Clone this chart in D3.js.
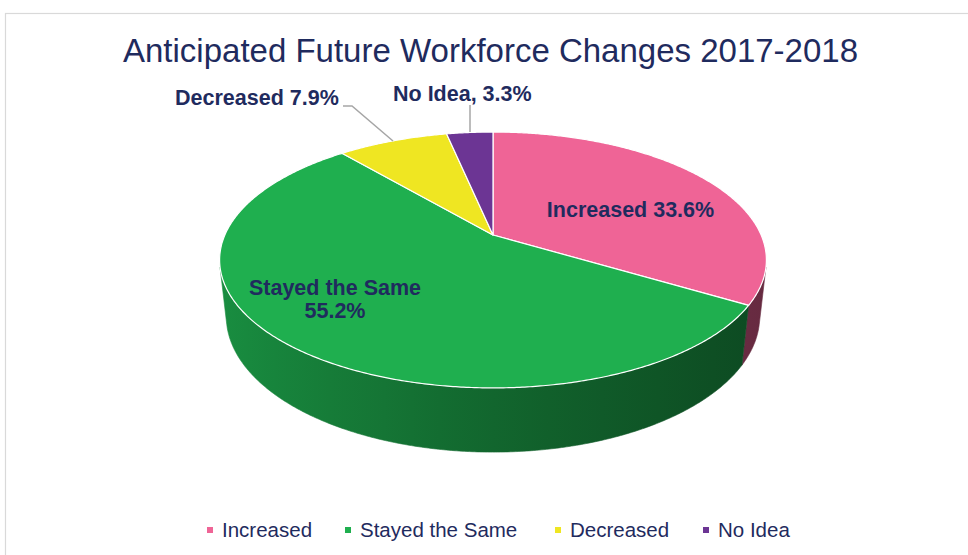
<!DOCTYPE html>
<html>
<head>
<meta charset="utf-8">
<script src="https://cdn.jsdelivr.net/npm/d3@7"></script>
<style>
  html, body { margin: 0; padding: 0; background: #fff; }
  svg { display: block; font-family: "Liberation Sans", Arial, sans-serif; }
</style>
</head>
<body>
<svg id="chart" width="968" height="555"></svg>
<script>
// 3D pie: Anticipated Future Workforce Changes 2017-2018

const categories = ["Increased", "Stayed the Same", "Decreased", "No Idea"];
const values = [33.6, 55.2, 7.9, 3.3];
const colors = ["#EF6496", "#1FAF4F", "#EFE622", "#6C3594"];
const labelSep = [" ", "\n", " ", ", "];

const width = 968;
const height = 555;
const navy = "#1F2B5E";
const svg = d3.select("#chart");

// frame
svg.append("rect")
    .attr("x", 5.5).attr("y", 13.5)
    .attr("width", 980).attr("height", 580)
    .attr("fill", "none").attr("stroke", "#D9D9D9").attr("stroke-width", 1.2);

// title
svg.append("text")
    .attr("x", 490.5).attr("y", 62)
    .attr("text-anchor", "middle")
    .attr("font-size", 33)
    .attr("fill", navy)
    .text("Anticipated Future Workforce Changes 2017-2018");

// perspective settings for the tilted disk
const cx = 493, cy = 235;
const sinT = 0.459, cosT = 0.888;
const D = 4.55, f = 1220, depth = 0.239;

function proj(a, k, r = 1) {
    const u = r * Math.sin(a), v = -r * Math.cos(a);
    const Y = v * sinT + k * cosT;
    const Z = D - v * cosT + k * sinT;
    return [cx + f * u / Z, cy + f * Y / Z];
}

function arcPts(a0, a1, k) {
    const n = Math.max(2, Math.ceil(Math.abs(a1 - a0) / 0.008));
    return d3.range(n + 1).map(i => proj(a0 + (a1 - a0) * i / n, k));
}

const pie = d3.pie().sort(null).value(d => d)(values);
const line = d3.line().curve(d3.curveLinear);

// gradients for the side walls
const defs = svg.append("defs");
const shade = d3.scaleLinear().domain([220, 767]).range([0.6, 2.4]);
colors.forEach((c, i) => {
    const g = defs.append("linearGradient")
        .attr("id", "wall" + i)
        .attr("gradientUnits", "userSpaceOnUse")
        .attr("x1", 220).attr("x2", 767).attr("y1", 0).attr("y2", 0);
    d3.range(0, 1.01, 0.1).forEach(t => {
        const x = 220 + t * 547;
        g.append("stop")
            .attr("offset", t)
            .attr("stop-color", d3.color(c).darker(shade(x)).formatHex());
    });
});

// visible outer wall: where -cos(a) > 1/(cosT*D)
const vis = Math.acos(-1 / (cosT * D));
const visStart = vis, visEnd = 2 * Math.PI - vis;

const wallG = svg.append("g");
pie.forEach((d, i) => {
    const a0 = Math.max(d.startAngle, visStart);
    const a1 = Math.min(d.endAngle, visEnd);
    if (a1 <= a0) return;
    const pts = arcPts(a0, a1, 0).concat(arcPts(a1, a0, depth));
    wallG.append("path")
        .attr("d", line(pts) + "Z")
        .attr("fill", `url(#wall${i})`)
        .attr("stroke", `url(#wall${i})`)
        .attr("stroke-width", 0.6);
});

// top faces
const topG = svg.append("g");
pie.forEach((d, i) => {
    const pts = [proj(0, 0, 0)].concat(arcPts(d.startAngle, d.endAngle, 0));
    topG.append("path")
        .attr("d", line(pts) + "Z")
        .attr("fill", colors[i])
        .attr("stroke", "#fff")
        .attr("stroke-width", 1.2)
        .attr("stroke-linejoin", "round");
});

// leader lines
svg.append("path")
    .attr("d", "M343,106H352L393,141")
    .attr("fill", "none").attr("stroke", "#A6A6A6").attr("stroke-width", 1.5);
svg.append("path")
    .attr("d", "M470,105V132")
    .attr("fill", "none").attr("stroke", "#A6A6A6").attr("stroke-width", 1.5);

// data labels
const labelPos = [
    {x: 630.5, y: 217, anchor: "middle"},
    {x: 335, y: 295, anchor: "middle"},
    {x: 175, y: 105, anchor: "start"},
    {x: 393, y: 101, anchor: "start"}
];
const labelG = svg.append("g")
    .attr("font-size", 21.5)
    .attr("font-weight", "bold")
    .attr("fill", navy);
categories.forEach((c, i) => {
    const lines = (c + labelSep[i] + values[i].toFixed(1) + "%").split("\n");
    const t = labelG.append("text")
        .attr("x", labelPos[i].x).attr("y", labelPos[i].y)
        .attr("text-anchor", labelPos[i].anchor);
    lines.forEach((s, j) => {
        t.append("tspan")
            .attr("x", labelPos[i].x)
            .attr("dy", j === 0 ? 0 : 23)
            .text(s);
    });
});

// legend
const legendX = [207, 345, 555, 703];
const legend = svg.append("g").attr("font-size", 20.5).attr("fill", navy);
categories.forEach((c, i) => {
    legend.append("rect")
        .attr("x", legendX[i]).attr("y", 527)
        .attr("width", 6).attr("height", 6)
        .attr("fill", colors[i]);
    legend.append("text")
        .attr("x", legendX[i] + 15).attr("y", 537)
        .text(c);
});
</script>
</body>
</html>
